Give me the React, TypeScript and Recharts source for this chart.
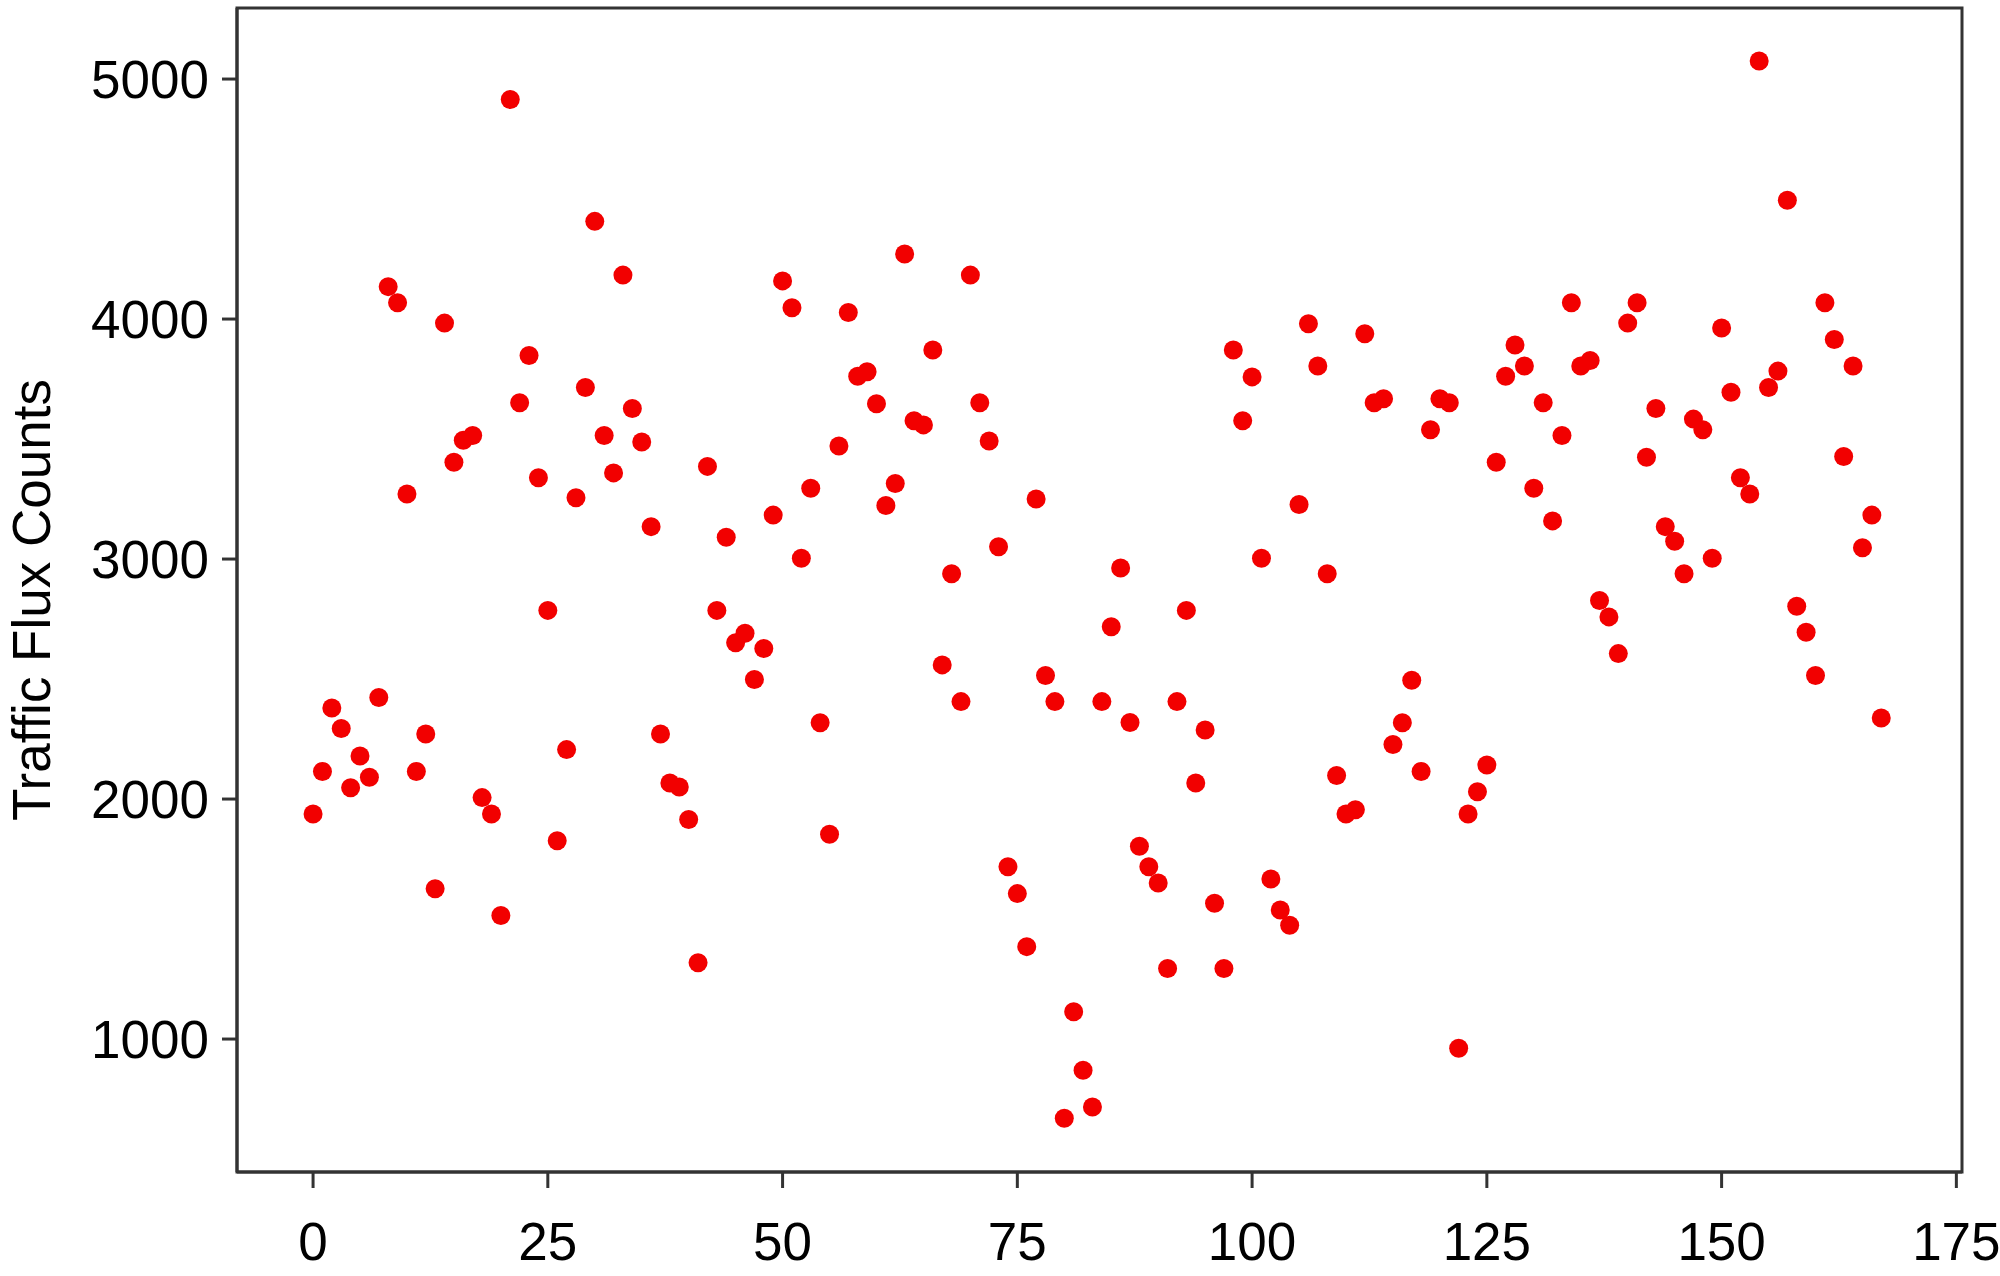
import React from 'react';
import { ScatterChart, Scatter, XAxis, YAxis, ReferenceArea } from 'recharts';

// Traffic flux counts per sample (sample index = position in the array, 0..167)
const trafficCounts: number[] = [
  1938, 2115, 2379, 2294, 2047, 2179, 2091, 2423, 4135, 4068,
  3271, 2115, 2271, 1626, 3983, 3403, 3495, 3515, 2006, 1938,
  1515, 4915, 3651, 3848, 3339, 2786, 1826, 2206, 3255, 3715,
  4407, 3515, 3359, 4183, 3627, 3488, 3135, 2271, 2067, 2050,
  1915, 1318, 3386, 2786, 3091, 2651, 2691, 2498, 2627, 3183,
  4159, 4047, 3003, 3295, 2318, 1853, 3471, 4027, 3762, 3780,
  3647, 3223, 3315, 4271, 3576, 3559, 3871, 2559, 2939, 2406,
  4183, 3651, 3492, 3051, 1718, 1606, 1385, 3250, 2515, 2406,
  670, 1114, 870, 717, 2406, 2718, 2963, 2319, 1803, 1718,
  1650, 1294, 2406, 2786, 2067, 2288, 1566, 1294, 3871, 3576,
  3759, 3003, 1667, 1538, 1474, 3227, 3980, 3804, 2939, 2098,
  1938, 1955, 3939, 3651, 3668, 2227, 2318, 2495, 2115, 3539,
  3668, 3651, 962, 1938, 2030, 2142, 3403, 3762, 3892, 3804,
  3295, 3651, 3159, 3515, 4068, 3804, 3827, 2827, 2759, 2606,
  3983, 4068, 3424, 3627, 3135, 3074, 2939, 3583, 3539, 3003,
  3963, 3695, 3339, 3271, 5075, 3715, 3783, 4495, 2803, 2695,
  2515, 4068, 3915, 3427, 3804, 3047, 3183, 2338,
];

const xTicks: number[] = [0, 25, 50, 75, 100, 125, 150, 175];
const yTicks: number[] = [1000, 2000, 3000, 4000, 5000];
const xDomain: [number, number] = [-8.1, 175.6];
const yDomain: [number, number] = [446, 5296];
const yLabel = 'Traffic Flux Counts';

const points = trafficCounts.map((y, i) => ({ x: i, y }));

const FONT = '"Liberation Sans", Arial, Helvetica, sans-serif';
const AXIS = '#333333';

const Dot = (props: any) => {
  const { cx, cy } = props;
  if (cx == null || cy == null) return null;
  return <circle cx={cx} cy={cy} r={9.5} fill="#f20000" />;
};

const YLabel = () => (
  <text
    x={50}
    y={600}
    transform="rotate(-90 50 600)"
    textAnchor="middle"
    fontFamily={FONT}
    fontSize={53}
    fill="#000"
  >
    {yLabel}
  </text>
);

export default function App() {
  return (
    <div style={{ position: 'absolute', left: 0, top: 0, width: 2000, height: 1276, background: '#fff' }}>
      <ScatterChart
        width={2000}
        height={1276}
        margin={{ top: 8, right: 38, bottom: 0, left: 0 }}
      >
        <XAxis
          type="number"
          dataKey="x"
          domain={xDomain}
          ticks={xTicks}
          allowDataOverflow
          height={104}
          tickSize={16}
          tickMargin={34}
          axisLine={{ stroke: AXIS, strokeWidth: 3 }}
          tickLine={{ stroke: AXIS, strokeWidth: 3 }}
          tick={{ fontFamily: FONT, fontSize: 53, fill: '#000' }}
          interval={0}
        />
        <YAxis
          type="number"
          dataKey="y"
          domain={yDomain}
          ticks={yTicks}
          allowDataOverflow
          width={237}
          tickSize={15}
          tickMargin={13}
          axisLine={{ stroke: AXIS, strokeWidth: 3 }}
          tickLine={{ stroke: AXIS, strokeWidth: 3 }}
          tick={{ fontFamily: FONT, fontSize: 53, fill: '#000' }}
          interval={0}
          label={{ content: YLabel }}
        />
        <ReferenceArea
          x1={xDomain[0]}
          x2={xDomain[1]}
          y1={yDomain[0]}
          y2={yDomain[1]}
          fill="none"
          fillOpacity={0}
          stroke={AXIS}
          strokeWidth={3}
          ifOverflow="visible"
        />
        <Scatter data={points} shape={Dot} isAnimationActive={false} />
      </ScatterChart>
    </div>
  );
}
